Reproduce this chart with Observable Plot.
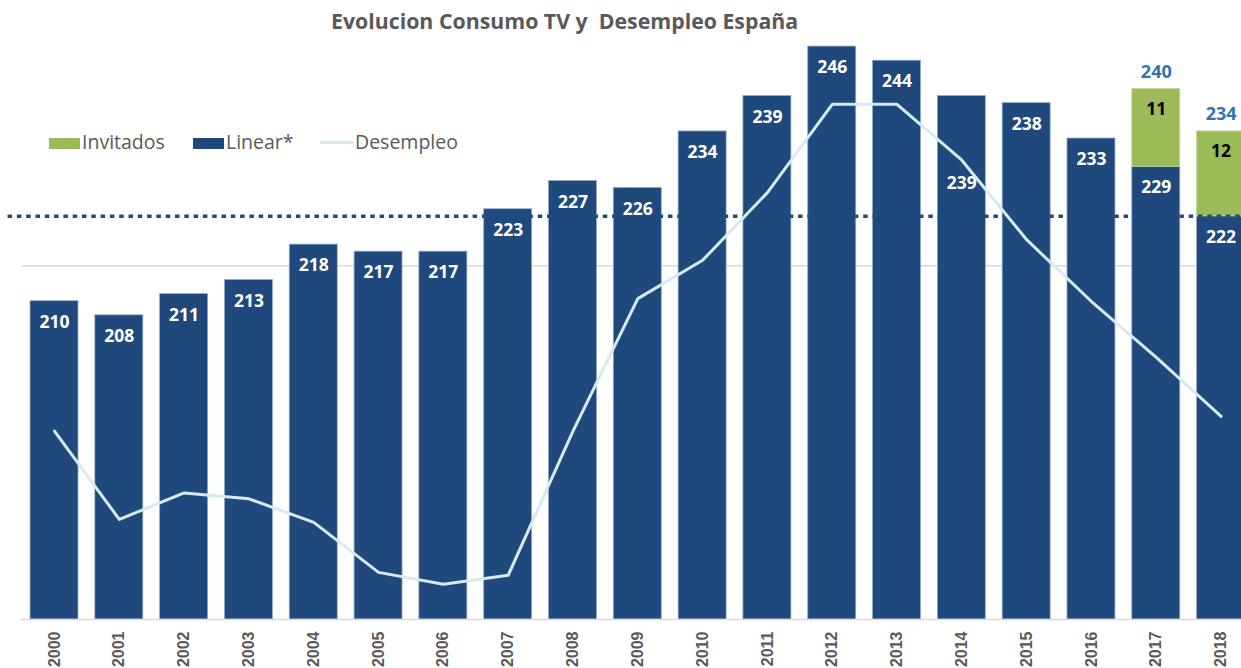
<!DOCTYPE html>
<html><head><meta charset="utf-8">
<script src="https://cdn.jsdelivr.net/npm/d3@7"></script>
<script src="https://cdn.jsdelivr.net/npm/@observablehq/plot@0.6"></script>
<style>
html,body{margin:0;padding:0;background:#fff;overflow:hidden;}
#wrap{position:relative;width:1241px;height:668px;overflow:hidden;background:#fff;}
#title{position:absolute;top:6px;left:331px;font-family:"Open Sans";font-weight:bold;font-size:21.3px;color:#595959;white-space:pre;line-height:30px;}
#chart{position:absolute;top:39px;left:0;}
#chart svg{max-width:none !important;}
.lg{position:absolute;font-family:"Open Sans";font-size:19.5px;color:#595959;line-height:26px;top:129px;white-space:nowrap;}
.sw{position:absolute;width:31px;height:11px;top:138px;}
.ln{position:absolute;width:33px;height:3px;top:141px;}
</style>
</head><body>
<div id="wrap">
  <div id="title"></div>
  <div id="chart"></div>
  <div id="legend"></div>
</div>
<script>
// ---- data ----
const title = "Evolucion Consumo TV y  Desempleo España";
const years = ["2000","2001","2002","2003","2004","2005","2006","2007","2008","2009","2010","2011","2012","2013","2014","2015","2016","2017","2018"];
const linear = [210,208,211,213,218,217,217,223,227,226,234,239,246,244,239,238,233,229,222];
const invitados = [0,0,0,0,0,0,0,0,0,0,0,0,0,0,0,0,0,11,12];
const desempleo = [13.7,10.7,11.6,11.4,10.6,8.9,8.5,8.8,13.7,18.2,19.5,21.8,24.8,24.8,22.9,20.2,18.1,16.2,14.2];
const seriesNames = ["Invitados","Linear*","Desempleo"];
const referenceLevel = 222;
const gridValues = [215];
const yDomain = [165, 247];
const desempleoDomain = [7.3, 27];

// ---- colours ----
const cLinear = "#1F497D", cInv = "#9BBB59", cLine = "#D6EAF1";

document.getElementById("title").textContent = title;

const rows = years.map((year, i) => ({
  year, linear: linear[i], inv: invitados[i], total: linear[i] + invitados[i], u: desempleo[i]
}));
const invRows = rows.filter(d => d.inv > 0);
const baseline = yDomain[0];
const uToY = d3.scaleLinear().domain(desempleoDomain).range(yDomain);

const chart = Plot.plot({
  width: 1253, height: 629,
  marginLeft: 21.6, marginRight: 0, marginTop: 0, marginBottom: 49,
  style: {fontFamily: "Open Sans", background: "transparent", overflow: "visible"},
  x: {domain: years, paddingInner: 0.26, paddingOuter: 0.13, round: false, label: null},
  y: {domain: yDomain, axis: null},
  marks: [
    Plot.ruleY(gridValues, {stroke: "#D9D9D9", strokeWidth: 1.5}),
    Plot.barY(rows, {x: "year", y1: () => baseline, y2: "linear", fill: cLinear, stroke: "#8FA8C8", strokeWidth: 0.8}),
    Plot.barY(invRows, {x: "year", y1: "linear", y2: "total", fill: cInv, stroke: "#C3D69B", strokeWidth: 0.8}),
    Plot.ruleY([baseline], {stroke: "#D9D9D9", strokeWidth: 1.5, insetLeft: -1}),
    Plot.ruleY([referenceLevel], {stroke: "#1F4E79", strokeWidth: 3.5, strokeDasharray: "4.5,4.8", insetLeft: -14}),
    Plot.text(rows.filter(d => d.year !== "2014"), {x: "year", y: "linear", dy: 21, text: d => String(d.linear), fill: "white", fontWeight: "bold", fontSize: 17.5}),
    Plot.text(rows.filter(d => d.year === "2014"), {x: "year", y: "linear", dy: 87, text: d => String(d.linear), fill: "white", fontWeight: "bold", fontSize: 17.5}),
    Plot.text(invRows, {x: "year", y: "total", dy: 20, text: d => String(d.inv), fill: "black", fontWeight: "bold", fontSize: 17.5}),
    Plot.text(invRows, {x: "year", y: "total", dy: -17, text: d => String(d.total), fill: "#2E75B6", fontWeight: "bold", fontSize: 18}),
    Plot.line(rows, {x: "year", y: d => uToY(d.u), stroke: cLine, strokeWidth: 3}),
    Plot.axisX({tickRotate: -90, tickSize: 0, tickPadding: 12, fontSize: 16, fontWeight: "bold", color: "#595959", fontFamily: "Liberation Sans", label: null})
  ]
});
document.getElementById("chart").appendChild(chart);

// ---- legend ----
const lg = document.getElementById("legend");
const items = [
  {name: seriesNames[0], type: "sw", color: cInv, sx: 49, tx: 82},
  {name: seriesNames[1], type: "sw", color: cLinear, sx: 193, tx: 226},
  {name: seriesNames[2], type: "ln", color: cLine, sx: 320, tx: 355}
];
for (const it of items) {
  const s = document.createElement("div");
  s.className = it.type; s.style.left = it.sx + "px"; s.style.background = it.color;
  lg.appendChild(s);
  const t = document.createElement("div");
  t.className = "lg"; t.style.left = it.tx + "px"; t.textContent = it.name;
  lg.appendChild(t);
}
</script>
</body></html>
